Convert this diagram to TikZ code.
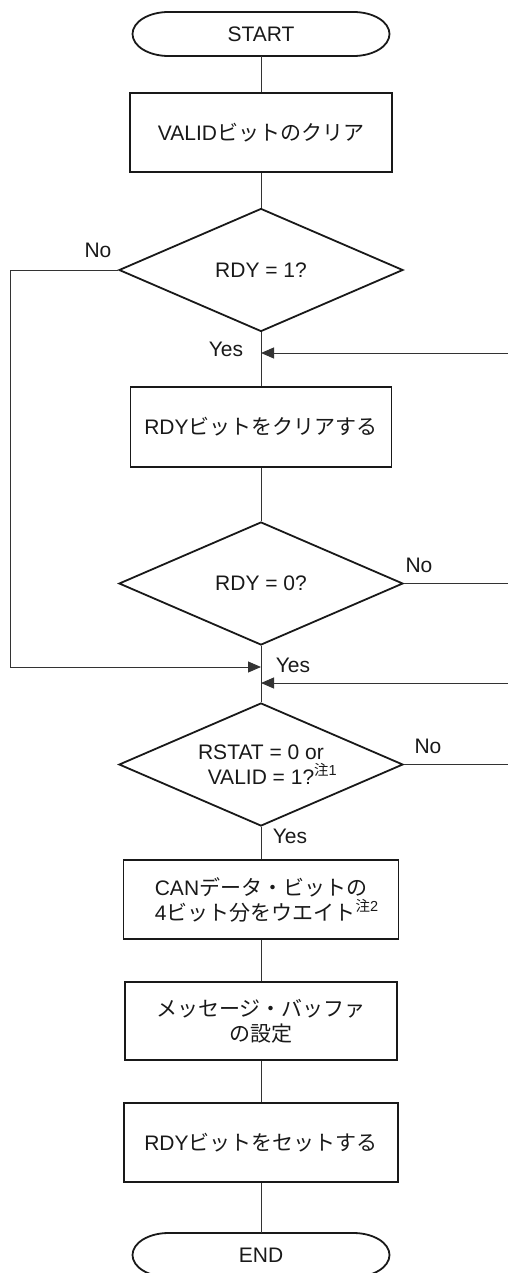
\documentclass[tikz,border=0pt]{standalone}
\usepackage{fontspec}
\setmainfont{Liberation Sans}
\newfontfamily\jp{Noto Sans CJK JP}
\usetikzlibrary{shapes.geometric,arrows.meta}
\newcommand\supnote[1]{\rlap{\raisebox{0.42em}{\fontsize{14.5}{14.5}\selectfont #1}}}
\newcommand\termborder[1]{\draw[line width=1.8pt,draw=black!90] ([xshift=36pt]#1.north west) -- ([xshift=-36pt]#1.north east) arc[start angle=90,end angle=-90,x radius=36pt,y radius=22pt] -- ([xshift=36pt]#1.south west) arc[start angle=270,end angle=90,x radius=36pt,y radius=22pt] -- cycle;}
\begin{document}
\begin{tikzpicture}[x=1pt,y=-1pt,
  every node/.style={font=\fontsize{21}{25}\selectfont, text=black!90},
  boxnode/.style={draw=black!90, line width=1.8pt, minimum height=79pt, inner sep=0, align=center},
  decision/.style={draw=black!90, diamond, aspect=2.3, minimum width=284pt, minimum height=123pt, inner sep=0, line width=1.8pt, align=center},
  termnode/.style={minimum width=257pt, minimum height=44pt, inner sep=0, outer sep=0},
  conn/.style={line width=1pt, draw=black!80},
  arr/.style={conn, -{Triangle[length=13pt,width=11pt]}},
  lbl/.style={inner sep=0}
]
\useasboundingbox (0,0) rectangle (508,1273);

% terminals
\node[termnode] (start) at (261,34) {START};
\termborder{start}
\node[termnode] (end) at (261,1255) {END};
\termborder{end}

% process boxes
\node[boxnode, minimum width=262pt] (b1) at (261,132.5) {VALID{\jp ビットのクリア}};
\node[boxnode, minimum width=261pt, minimum height=80pt] (b2) at (261,427) {RDY{\jp ビットをクリアする}};
\node[boxnode, minimum width=275pt, align=left] (b3) at (261,899.5) {CAN{\jp データ・ビットの}\\4{\jp ビット分をウエイト}\supnote{{\jp 注}2}};
\node[boxnode, minimum width=272pt, minimum height=78pt] (b4) at (261,1021) {{\jp メッセージ・バッファ}\\{\jp の設定}};
\node[boxnode, minimum width=274pt] (b5) at (261,1142.5) {RDY{\jp ビットをセットする}};

% decisions
\node[decision] (d1) at (261,270) {RDY = 1?};
\node[decision] (d2) at (261,583.5) {RDY = 0?};
\node[decision] (d3) at (261,764.5) {RSTAT = 0 or\\VALID = 1?\supnote{{\jp 注}1}};

% labels
\node[lbl] (no1) at (98,250) {No};
\node[lbl] (yes1) at (226,349) {Yes};
\node[lbl] (no2) at (419,565) {No};
\node[lbl] (yes2) at (293,665) {Yes};
\node[lbl] (no3) at (428,746) {No};
\node[lbl] (yes3) at (290,836) {Yes};

% main flow
\draw[conn] (start.south) -- (b1.north);
\draw[conn] (b1.south) -- (d1.north);
\draw[conn] (d1.south) -- (b2.north);
\draw[conn] (b2.south) -- (d2.north);
\draw[conn] (d2.south) -- (d3.north);
\draw[conn] (d3.south) -- (b3.north);
\draw[conn] (b3.south) -- (b4.north);
\draw[conn] (b4.south) -- (b5.north);
\draw[conn] (b5.south) -- (end.north);

% loops
\coordinate (l1) at (10,667);
\draw[arr] (d1.west) -| (l1) -- (l1 -| d3.north);
\coordinate (r1) at (508,353);
\draw[arr] (r1) -- (r1 -| d1.south);
\coordinate (r2) at (508,683);
\draw[arr] (r2) -- (r2 -| d3.north);
\draw[conn] (d2.east) -- (d2.east -| r1);
\draw[conn] (d3.east) -- (d3.east -| r1);
\end{tikzpicture}
\end{document}
